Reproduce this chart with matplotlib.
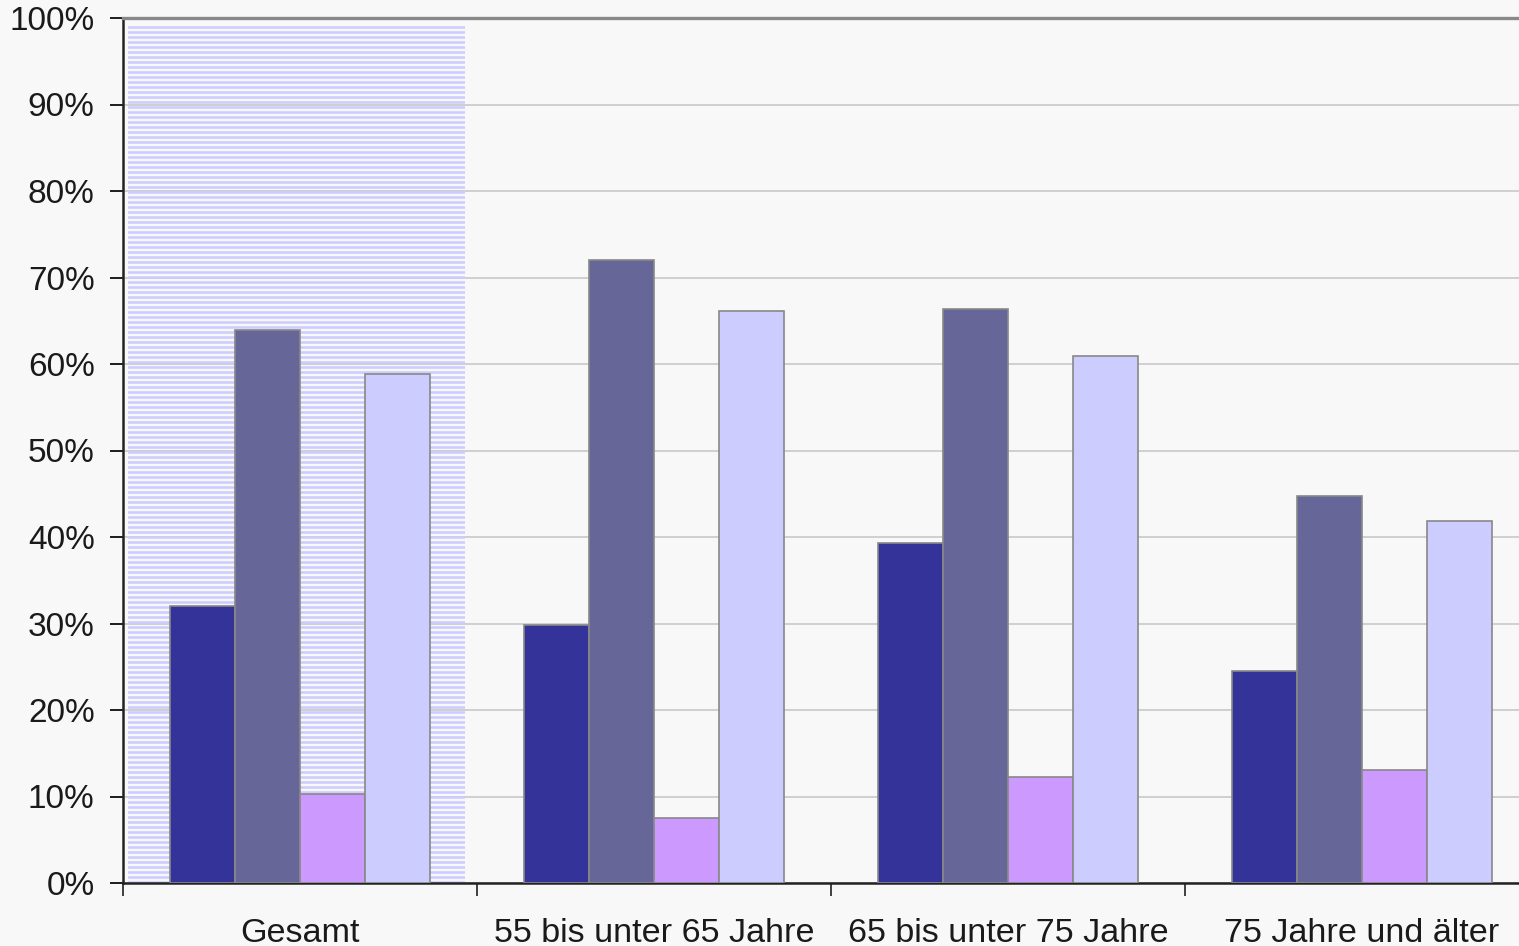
import numpy as np
import matplotlib.pyplot as plt
from matplotlib.patches import Rectangle
from matplotlib.ticker import FixedLocator, FuncFormatter

plt.rcParams['font.family'] = ['Liberation Sans', 'DejaVu Sans']
plt.rcParams['hatch.linewidth'] = 1.5
plt.rcParams['hatch.color'] = '#CCCCFF'

# data (percent)
groups = ['Gesamt', '55 bis unter 65 Jahre', '65 bis unter 75 Jahre', '75 Jahre und älter']
s1 = [32.0, 29.8, 39.3, 24.5]
s2 = [63.9, 72.0, 66.4, 44.7]
s3 = [10.3, 7.5, 12.3, 13.1]
s4 = [58.8, 66.1, 60.9, 41.8]
series = [s1, s2, s3, s4]
colors = ['#333399', '#666699', '#CC99FF', '#CCCCFF']

dpi = 120
fig = plt.figure(figsize=(1519/dpi, 946/dpi), dpi=dpi, facecolor='#F8F8F8')
ax = fig.add_axes([123/1519, 63/946, 1416/1519, 865/946])
ax.set_facecolor('#F8F8F8')

x = np.arange(len(groups))
w = 0.184

# hatched highlight behind the first group
ax.add_patch(Rectangle((-0.486, 0), 0.952, 99.2, facecolor='none',
                       edgecolor='#CCCCFF', hatch='----', linewidth=0, zorder=1))

for i, (vals, c) in enumerate(zip(series, colors)):
    ax.bar(x + (i - 1.5) * w, vals, w, color=c, edgecolor='#888888',
           linewidth=1.0, zorder=3)

ax.set_xlim(-0.5, 3.5)
ax.set_ylim(0, 100)
ax.set_yticks(np.arange(0, 101, 10))
ax.yaxis.set_major_formatter(FuncFormatter(lambda v, p: f'{int(v)}%'))
ax.yaxis.grid(True, color='#C8C8C8', linewidth=1.0, zorder=0)
ax.set_axisbelow(True)

ax.set_xticks(x)
ax.set_xticklabels(groups)
ax.xaxis.set_minor_locator(FixedLocator(np.arange(-0.5, 4, 1)))
ax.tick_params(axis='x', which='major', length=0, pad=21, labelsize=20.5, labelcolor='#1a1a1a')
ax.tick_params(axis='x', which='minor', length=8, width=1.2, color='#444444', direction='out')
ax.tick_params(axis='y', length=8, width=1.2, color='#222222', pad=9, labelsize=20,
               labelcolor='#1a1a1a')

ax.spines['right'].set_visible(False)
ax.spines['top'].set_color('#888888')
ax.spines['top'].set_linewidth(2.0)
ax.spines['left'].set_color('#222222')
ax.spines['left'].set_linewidth(1.5)
ax.spines['bottom'].set_color('#222222')
ax.spines['bottom'].set_linewidth(1.5)

fig.savefig('out.png', dpi=dpi, facecolor=fig.get_facecolor())
